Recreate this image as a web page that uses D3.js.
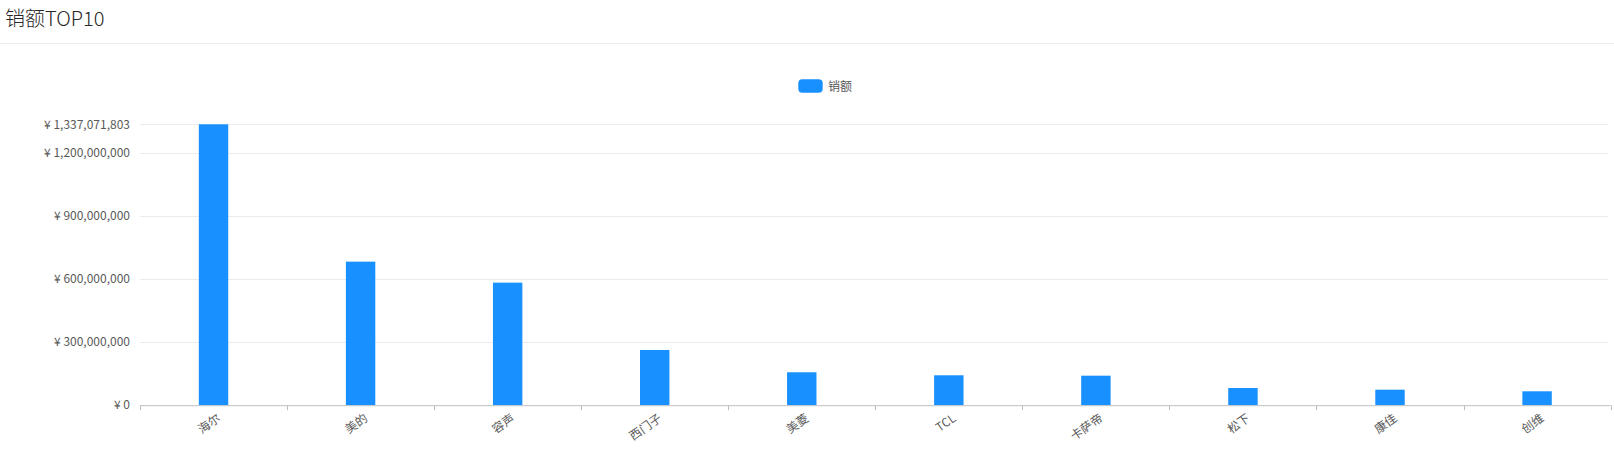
<!DOCTYPE html>
<html>
<head>
<meta charset="utf-8">
<script src="https://cdn.jsdelivr.net/npm/d3@7/dist/d3.min.js"></script>
<style>
  html, body { margin: 0; padding: 0; background: #fff; }
  svg { display: block; font-family: "Noto Sans CJK SC", "Noto Sans", sans-serif; }
</style>
</head>
<body>
<svg id="chart" width="1614" height="465"></svg>
<script>
const title = "销额TOP10";
const seriesName = "销额";
const brands = ["海尔", "美的", "容声", "西门子", "美菱", "TCL", "卡萨帝", "松下", "康佳", "创维"];
const sales = [1337071803, 683300000, 583300000, 262900000, 156700000, 142400000, 140500000, 81900000, 73800000, 66200000];
const yTicks = [0, 300000000, 600000000, 900000000, 1200000000, 1337071803];

const svg = d3.select("#chart");
const W = 1614;
const margin = { left: 140, right: 3, top: 124.3, bottom: 60 };
const plotBottom = 405.2;

// title + separator
svg.append("text")
  .attr("x", 5).attr("y", 26)
  .attr("font-size", 20).attr("font-weight", 300).attr("fill", "#262626")
  .text(title);
svg.append("line")
  .attr("x1", 0).attr("x2", W).attr("y1", 43.5).attr("y2", 43.5)
  .attr("stroke", "#ececec");

// scales
const x = d3.scaleBand().domain(brands).range([margin.left, 1610.6]).paddingInner(0).paddingOuter(0);
const y = d3.scaleLinear().domain([0, d3.max(sales)]).range([plotBottom, margin.top]);

// grid
svg.append("g").selectAll("line")
  .data(yTicks.filter(d => d > 0))
  .join("line")
  .attr("x1", margin.left).attr("x2", 1608)
  .attr("y1", d => Math.round(y(d)) + 0.5).attr("y2", d => Math.round(y(d)) + 0.5)
  .attr("stroke", "#ebebeb");

// y axis labels
const fmt = d3.format(",");
svg.append("g").selectAll("text")
  .data(yTicks)
  .join("text")
  .attr("x", 130)
  .attr("y", d => y(d))
  .attr("dy", "0.35em")
  .attr("text-anchor", "end")
  .attr("font-size", 12)
  .attr("fill", "#595959")
  .text(d => "¥ " + fmt(d));

// bars
const bw = x.bandwidth() * 0.2;
svg.append("g").selectAll("rect")
  .data(brands.map((b, i) => ({ b, v: sales[i] })))
  .join("rect")
  .attr("x", d => x(d.b) + x.bandwidth() / 2 - bw / 2)
  .attr("width", bw)
  .attr("y", d => y(d.v))
  .attr("height", d => plotBottom - y(d.v))
  .attr("fill", "#1890ff");

// x axis
svg.append("line")
  .attr("x1", margin.left).attr("x2", 1610.6)
  .attr("y1", plotBottom + 0.5).attr("y2", plotBottom + 0.5)
  .attr("stroke", "#bfbfbf");
const tickPos = brands.map(b => x(b)).concat([x.range()[1]]);
svg.append("g").selectAll("line")
  .data(tickPos)
  .join("line")
  .attr("x1", d => Math.round(d) + 0.5).attr("x2", d => Math.round(d) + 0.5)
  .attr("y1", plotBottom).attr("y2", plotBottom + 5)
  .attr("stroke", "#bfbfbf");

svg.append("g").selectAll("text")
  .data(brands)
  .join("text")
  .attr("transform", d => `translate(${x(d) + x.bandwidth() / 2 + 3},${plotBottom + 8}) rotate(-35)`)
  .attr("text-anchor", "end")
  .attr("dy", "0.71em")
  .attr("font-size", 12)
  .attr("fill", "#595959")
  .text(d => d);

// legend
svg.append("rect")
  .attr("x", 798.3).attr("y", 79.3).attr("width", 24.4).attr("height", 13.4)
  .attr("rx", 4).attr("fill", "#1890ff");
svg.append("text")
  .attr("x", 828).attr("y", 86.5).attr("dy", "0.35em")
  .attr("font-size", 12).attr("fill", "#595959")
  .text(seriesName);
</script>
</body>
</html>
